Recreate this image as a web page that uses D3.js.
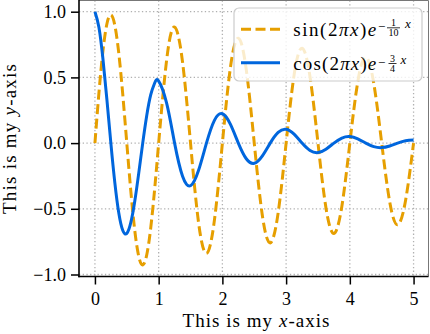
<!DOCTYPE html>
<html><head><meta charset="utf-8">
<script src="https://cdn.jsdelivr.net/npm/d3@7"></script>
<style>
html,body{margin:0;padding:0;background:#fff;}
svg{display:block;}
text{font-family:"Liberation Serif","DejaVu Serif","Times New Roman",serif;fill:#000;}
</style>
</head><body>
<svg id="chart" width="430" height="334"></svg>
<script>
// ---- data ----
const xValues = [0,0.0625,0.125,0.1875,0.25,0.3125,0.375,0.4375,0.5,0.5625,0.625,0.6875,0.75,0.8125,0.875,0.9375,1,
  1.125,1.25,1.375,1.5,1.625,1.75,1.875,2,2.125,2.25,2.375,2.5,2.625,2.75,2.875,3,
  3.125,3.25,3.375,3.5,3.625,3.75,3.875,4,4.125,4.25,4.375,4.5,4.625,4.75,4.875,5];
const sinValues = [0,0.3803,0.6983,0.9067,0.9753,0.8955,0.6811,0.3663,0,-0.3617,-0.6643,-0.8625,-0.9277,-0.8518,-0.6479,-0.3484,0,
  0.6319,0.8825,0.6163,0,-0.6011,-0.8395,-0.5862,0,0.5717,0.7985,0.5576,0,-0.5439,-0.7596,-0.5304,0,
  0.5173,0.7225,0.5046,0,-0.4921,-0.6873,-0.4800,0,0.4681,0.6538,0.4565,0,-0.4453,-0.6219,-0.4343,0];
const cosValues = [1,0.8816,0.6438,0.3325,0,-0.3027,-0.5338,-0.6654,-0.6873,-0.6059,-0.4425,-0.2285,0,0.2081,0.3668,0.4573,0.4724,
  0.3041,0,-0.2521,-0.3247,-0.2090,0,0.1733,0.2231,0.1437,0,-0.1191,-0.1534,-0.0987,0,0.0819,0.1054,
  0.0679,0,-0.0563,-0.0724,-0.0466,0,0.0387,0.0498,0.0321,0,-0.0266,-0.0342,-0.0220,0,0.0183,0.0235];
const xTicks = [0,1,2,3,4,5];
const yTicks = [-1.0,-0.5,0.0,0.5,1.0];
const xLabel = ["This is my ", "x", "-axis"];
const yLabel = ["This is my ", "y", "-axis"];
const legendFuncs = ["sin", "cos"];
const legendNum = ["1", "3"];
const legendDen = ["10", "4"];

// ---- layout ----
const FONT = "'Liberation Serif','DejaVu Serif','Times New Roman',serif";
const svg = d3.select("#chart");
const L = 79, R = 428.5, T = 0.5, B = 276.5;
const x = d3.scaleLinear().domain([-0.25, 5.25]).range([79, 429.5]);
const y = d3.scaleLinear().domain([-1, 1]).range([274.5, 11.7]);
const orange = "#E69F00", blue = "#0066DD";

svg.append("defs").append("clipPath").attr("id","clip")
  .append("rect").attr("x",L).attr("y",0).attr("width",R-L).attr("height",B);

// grid
const grid = svg.append("g").attr("stroke","#b0b0b0").attr("stroke-width",1.3).attr("stroke-dasharray","1.3,2.4");
grid.selectAll(".gx").data(xTicks).join("line")
  .attr("x1",d=>x(d)).attr("x2",d=>x(d)).attr("y1",T).attr("y2",B);
grid.selectAll(".gy").data(yTicks).join("line")
  .attr("y1",d=>y(d)).attr("y2",d=>y(d)).attr("x1",L).attr("x2",R);

// curves
const line = d3.line().x((d,i)=>x(xValues[i])).y(d=>y(d)).curve(d3.curveNatural);
const plot = svg.append("g").attr("clip-path","url(#clip)");
plot.append("path").datum(sinValues).attr("d",line).attr("fill","none")
  .attr("stroke",orange).attr("stroke-width",3).attr("stroke-dasharray","10,4.5");
plot.append("path").datum(cosValues).attr("d",line).attr("fill","none")
  .attr("stroke",blue).attr("stroke-width",3);

// axes
const fmtY = d3.format(".1f");
const ax = svg.append("g").attr("transform",`translate(0,${B})`)
  .call(d3.axisBottom(x).tickValues(xTicks).tickSize(8).tickPadding(7.5).tickFormat(d3.format("d")));
const ay = svg.append("g").attr("transform",`translate(${L},0)`)
  .call(d3.axisLeft(y).tickValues(yTicks).tickSize(8).tickPadding(5).tickFormat(fmtY));
[ax,ay].forEach(g=>{
  g.attr("font-family",FONT).attr("font-size",18);
  g.select(".domain").remove();
  g.selectAll(".tick line").attr("stroke","#000").attr("stroke-width",1.5);
  g.selectAll(".tick text").attr("fill","#000");
});

// spines
svg.append("line").attr("x1",L).attr("x2",R).attr("y1",T).attr("y2",T).attr("stroke","#777").attr("stroke-width",1);
svg.append("line").attr("x1",R).attr("x2",R).attr("y1",T).attr("y2",B).attr("stroke","#777").attr("stroke-width",1);
svg.append("line").attr("x1",L).attr("x2",L).attr("y1",T-1).attr("y2",B+0.75).attr("stroke","#000").attr("stroke-width",1.6);
svg.append("line").attr("x1",L-0.75).attr("x2",R).attr("y1",B).attr("y2",B).attr("stroke","#000").attr("stroke-width",1.6);

// axis labels
const xl = svg.append("text").attr("x",182.5).attr("y",326.5).attr("textLength",147)
  .attr("lengthAdjust","spacing").style("font-size","19px");
xl.append("tspan").text(xLabel[0]);
xl.append("tspan").style("font-style","italic").text(xLabel[1]);
xl.append("tspan").text(xLabel[2]);
const yl = svg.append("text").attr("transform","translate(16,214) rotate(-90)")
  .attr("x",0).attr("y",0).attr("textLength",150).attr("lengthAdjust","spacing").style("font-size","19px");
yl.append("tspan").text(yLabel[0]);
yl.append("tspan").style("font-style","italic").text(yLabel[1]);
yl.append("tspan").text(yLabel[2]);

// legend
const lg = svg.append("g");
lg.append("rect").attr("x",234).attr("y",8).attr("width",188).attr("height",73).attr("rx",5)
  .attr("fill","#fff").attr("fill-opacity",0.8).attr("stroke","#cccccc").attr("stroke-width",1.2);
const entries = [
  {name:legendFuncs[0], num:legendNum[0], den:legendDen[0], color:orange, dash:"10,4.5", hy:29.3, base:36, bar:27.8, fracC:393.5, fracW:13, xs:405},
  {name:legendFuncs[1], num:legendNum[1], den:legendDen[1], color:blue, dash:null, hy:62.8, base:70, bar:63.5, fracC:392.5, fracW:8, xs:400.5}
];
entries.forEach(e=>{
  lg.append("line").attr("x1",241).attr("x2",280).attr("y1",e.hy).attr("y2",e.hy)
    .attr("stroke",e.color).attr("stroke-width",3).attr("stroke-dasharray",e.dash);
  const t = lg.append("text").attr("x",293.3).attr("y",e.base).attr("textLength",83)
    .attr("lengthAdjust","spacing").style("font-size","19px");
  t.append("tspan").text(e.name+"(2");
  t.append("tspan").style("font-style","italic").text("πx");
  t.append("tspan").text(")");
  t.append("tspan").style("font-style","italic").text("e");
  lg.append("text").attr("x",378).attr("y",e.bar+3.2).style("font-size","13px").text("−");
  lg.append("text").attr("x",e.fracC).attr("y",e.bar-1.8).attr("text-anchor","middle").style("font-size","10px").text(e.num);
  lg.append("line").attr("x1",e.fracC-e.fracW/2).attr("x2",e.fracC+e.fracW/2).attr("y1",e.bar).attr("y2",e.bar)
    .attr("stroke","#000").attr("stroke-width",0.8);
  lg.append("text").attr("x",e.fracC).attr("y",e.bar+8).attr("text-anchor","middle").style("font-size","10px").text(e.den);
  lg.append("text").attr("x",e.xs).attr("y",e.bar).style("font-size","13px").style("font-style","italic").text("x");
});
</script>
</body></html>
